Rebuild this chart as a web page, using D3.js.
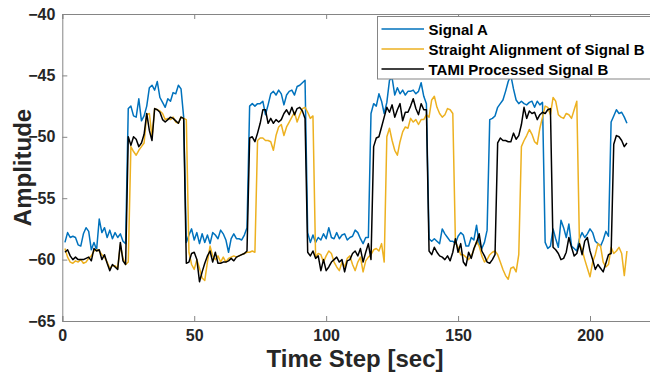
<!DOCTYPE html>
<html>
<head>
<meta charset="utf-8">
<script src="https://cdn.jsdelivr.net/npm/d3@7"></script>
<style>
  html, body { margin: 0; padding: 0; background: #fff; }
  svg { display: block; font-family: "Liberation Sans", Arial, Helvetica, sans-serif; }
</style>
</head>
<body>
<svg id="chart" width="650" height="375"></svg>
<script>
// time steps run 1..214 (one sample per second)
const signalA = [
  -58.6, -57.8, -58.2, -58.1, -58.2, -58.8, -58.9, -57.9, -57.4, -57.7, -59.2, -58.6, -59.2, -56.7, -57.8, -57.4, -58.2, -57.6, -58.3, -57.8, -58.2, -57.9, -58.5, -58.7,
  -47.7, -47.5, -48.3, -48.4, -46.9, -48.7, -48.3, -47.5, -46.0, -45.8, -46.2, -45.5, -46.8, -47.2, -47.6, -46.9, -47.1, -46.4, -46.5, -45.8, -46.1, -48.4,
  -58.6, -58.0, -57.5, -58.4, -57.8, -58.7, -57.9, -58.6, -58.0, -58.7, -57.8, -58.0, -58.3, -57.6, -57.9, -58.4, -59.4, -58.3, -57.9, -58.3, -58.3, -58.4, -58.0, -57.4,
  -47.5, -47.3, -47.5, -47.3, -47.3, -47.1, -48.2, -47.4, -46.5, -46.3, -46.6, -46.2, -46.5, -47.4, -46.6, -46.3, -46.2, -46.6, -45.9, -45.8, -45.6, -45.4,
  -57.8, -58.6, -58.0, -58.6, -58.2, -58.4, -57.9, -58.3, -57.4, -58.2, -58.3, -57.8, -58.3, -58.0, -57.9, -58.4, -58.2, -58.1, -57.6, -57.8, -58.3, -58.7, -58.2, -58.2,
  -48.1, -47.3, -47.5, -46.5, -47.1, -48.1, -47.2, -45.4, -45.2, -46.6, -46.0, -46.5, -46.2, -46.6, -46.3, -46.3, -46.2, -46.5, -46.3, -45.6, -46.7, -47.3,
  -58.3, -58.5, -58.3, -58.5, -58.7, -57.5, -57.9, -58.2, -58.5, -58.5, -58.7, -58.1, -57.8, -58.0, -58.9, -58.9, -58.2, -58.4, -57.2, -58.7, -59.1, -58.6, -57.6,
  -48.6, -48.5, -48.3, -47.6, -47.3, -47.0, -46.3, -45.5, -45.0, -46.1, -47.0, -47.3, -47.1, -47.3, -47.4, -47.2, -47.1, -47.6, -47.1, -47.4, -47.2,
  -58.6, -59.1, -58.9, -57.5, -58.3, -59.0, -56.8, -57.4, -58.2, -57.1, -58.9, -59.1, -59.3, -58.3, -57.8, -58.2, -57.9, -57.5, -57.8, -58.5, -58.7, -58.9, -58.4, -57.7, -58.1,
  -48.8, -48.3, -47.8, -48.1, -48.0, -48.4, -48.9
];

const straightB = [
  -59.1, -59.8, -60.2, -60.3, -60.1, -60.2, -60.0, -60.3, -60.2, -59.9, -59.7, -59.3, -59.2, -59.3, -59.6, -59.8, -60.2, -60.7, -60.5, -60.5, -60.7, -58.8, -59.9, -60.4, -60.2,
  -50.8, -51.2, -51.5, -51.1, -50.8, -50.5, -48.2, -48.1, -50.0, -47.7, -47.8, -47.9, -48.1, -48.6, -48.5, -48.6, -48.4, -48.8, -48.9, -48.4, -48.5, -48.6,
  -59.4, -60.4, -60.8, -60.0, -60.7, -61.5, -61.7, -60.2, -58.9, -59.7, -60.0, -59.7, -60.2, -59.8, -60.2, -59.9, -59.8, -59.7, -59.8, -59.7, -59.6, -59.5, -59.4, -59.4, -59.3, -59.4,
  -50.3, -50.1, -50.1, -50.3, -50.3, -50.4, -51.1, -49.9, -49.2, -49.0, -49.9, -49.2, -48.8, -48.4, -48.0, -48.8, -48.2, -47.7, -47.6, -48.0, -48.5, -48.3,
  -59.8, -59.5, -59.6, -60.2, -59.7, -59.3, -59.5, -60.2, -60.6, -60.9, -60.2, -60.6, -59.9, -59.7, -60.4, -60.9, -60.2, -59.8, -61.0, -60.1, -59.8, -59.6, -59.2, -59.1, -59.3, -58.7, -60.2,
  -50.0, -49.3, -50.3, -51.1, -51.5, -50.4, -49.6, -49.2, -49.3, -48.5, -48.8, -48.6, -49.0, -48.6, -48.6, -48.2, -48.4, -47.0, -46.7, -47.6, -48.1, -48.4, -48.2, -47.7, -47.8, -48.1,
  -58.6, -59.0, -59.6, -59.6, -59.8, -60.0, -59.7, -59.2, -58.5, -58.9, -59.7, -60.2, -60.0, -59.6, -59.4, -59.3, -59.6, -60.2, -60.8, -61.3, -61.6, -60.7, -60.6, -61.0, -59.6,
  -50.8, -50.3, -49.9, -49.4, -49.8, -50.4, -50.6, -49.3, -48.4, -47.5, -47.6, -48.2, -46.8, -47.1, -48.2, -48.4, -48.5, -48.1, -48.2, -48.5, -47.8, -47.1,
  -58.7, -59.2, -60.0, -60.7, -61.4, -60.2, -59.6, -58.7, -58.9, -60.2, -60.6, -60.4, -59.0, -59.5, -59.3, -59.0, -59.5, -61.3, -59.3
];

const tamiB = [
  -59.4, -59.2, -59.7, -60.0, -59.8, -60.0, -60.0, -60.0, -59.9, -59.8, -60.1, -59.1, -59.3, -59.2, -60.0, -59.6, -60.3, -60.9, -60.4, -60.6, -60.8, -58.6, -60.1, -60.4,
  -50.0, -50.7, -50.0, -50.2, -50.8, -50.5, -49.8, -48.1, -49.5, -50.3, -47.7, -47.8, -48.0, -48.6, -48.8, -48.6, -48.4, -48.5, -48.7, -48.9, -48.4, -48.5,
  -60.3, -60.2, -59.5, -59.4, -60.0, -61.8, -61.0, -60.3, -59.7, -59.3, -60.2, -59.4, -60.3, -60.3, -60.2, -60.2, -60.1, -59.9, -60.1, -59.8, -59.7, -59.6, -59.5, -59.3,
  -50.1, -50.0, -50.4, -49.7, -48.9, -47.8, -47.8, -48.9, -48.5, -48.9, -48.6, -48.8, -48.6, -48.1, -47.8, -48.2, -47.6, -48.2, -47.7, -47.6, -47.9, -48.5,
  -59.4, -59.7, -59.3, -59.9, -59.7, -60.9, -60.0, -60.9, -60.6, -60.2, -60.0, -59.8, -60.2, -60.0, -61.0, -60.1, -60.0, -59.5, -59.3, -59.7, -59.1, -60.2, -59.4, -58.7, -60.0,
  -50.8, -50.1, -50.0, -49.2, -48.4, -47.6, -48.0, -47.4, -48.4, -47.8, -47.3, -48.7, -48.0, -48.0, -47.5, -46.9, -47.7, -48.2, -47.3, -47.8, -47.8,
  -59.3, -59.6, -59.0, -59.4, -59.7, -59.8, -60.0, -59.7, -60.1, -59.4, -58.3, -59.4, -58.7, -60.2, -60.5, -59.4, -59.9, -59.1, -58.6, -57.9, -59.3, -59.7, -60.2, -60.3, -60.0, -59.6,
  -50.5, -50.1, -50.3, -50.3, -50.4, -50.4, -49.7, -50.2, -49.9, -49.0, -47.6, -48.5, -47.9, -48.1, -48.0, -48.6, -48.2, -48.0, -48.1, -47.8, -47.7,
  -59.0, -59.2, -59.5, -60.0, -59.9, -59.4, -58.2, -59.0, -59.7, -59.5, -58.7, -59.6, -58.5, -58.2, -59.3, -60.0, -60.8, -60.4, -60.7, -61.0, -60.3, -59.6, -59.5,
  -50.6, -49.9, -50.0, -50.3, -50.8, -50.5
];

const xTicks = [0, 50, 100, 150, 200];
const yTicks = [-65, -60, -55, -50, -45, -40];
const seriesNames = ['Signal A', 'Straight Alignment of Signal B', 'TAMI Processed Signal B'];
const seriesColors = ['#0072BD', '#EDB120', '#000000'];

const svg = d3.select('#chart');
const plotLeft = 62.3, plotTop = 14, plotBottom = 321;

const x = d3.scaleLinear().domain([0, 250]).range([plotLeft, plotLeft + 250 * 2.6385]);
const y = d3.scaleLinear().domain([-65, -40]).range([plotBottom, plotTop]);

svg.append('rect').attr('width', 650).attr('height', 375).attr('fill', '#fff');

// data lines, drawn A -> straight -> TAMI so black sits on top
const line = d3.line()
  .x((d, i) => x(i + 1))
  .y(d => y(d));

[signalA, straightB, tamiB].forEach((vals, k) => {
  svg.append('path')
    .datum(vals)
    .attr('fill', 'none')
    .attr('stroke', seriesColors[k])
    .attr('stroke-width', 1.5)
    .attr('stroke-linejoin', 'round')
    .attr('d', line);
});

// axes (MATLAB style box, inward ticks)
const axisColor = '#858585';
const xAxisB = d3.axisBottom(x).tickValues(xTicks).tickSize(-5).tickPadding(9).tickFormat(d3.format('d'));
const xAxisT = d3.axisTop(x).tickValues(xTicks).tickSize(-5).tickFormat('');
const yAxisL = d3.axisLeft(y).tickValues(yTicks).tickSize(-5).tickPadding(7).tickFormat(d3.format('d'));

function styleAxis(g) {
  g.select('.domain').attr('stroke', axisColor).attr('stroke-width', 1);
  g.selectAll('.tick line').attr('stroke', axisColor);
  g.selectAll('.tick text')
    .attr('fill', '#262626')
    .style('font-size', '16px')
    .style('font-weight', 'bold');
}

svg.append('g').attr('transform', `translate(0,${plotBottom})`).call(xAxisB).call(styleAxis);
svg.append('g').attr('transform', `translate(0,${plotTop})`).call(xAxisT).call(styleAxis);
svg.append('g').attr('transform', `translate(${plotLeft},0)`).call(yAxisL).call(styleAxis);

// axis titles
svg.append('text')
  .attr('x', 355).attr('y', 367)
  .attr('text-anchor', 'middle')
  .attr('fill', '#262626')
  .style('font-size', '24px').style('font-weight', 'bold')
  .text('Time Step [sec]');

svg.append('text')
  .attr('transform', `translate(31,${(plotTop + plotBottom) / 2}) rotate(-90)`)
  .attr('text-anchor', 'middle')
  .attr('fill', '#262626')
  .style('font-size', '24px').style('font-weight', 'bold')
  .text('Amplitude');

// legend
const lg = svg.append('g').attr('transform', 'translate(377.5,16.5)');
lg.append('rect')
  .attr('width', 300).attr('height', 62.5)
  .attr('fill', '#fff').attr('stroke', axisColor).attr('stroke-width', 1);
seriesNames.forEach((name, k) => {
  const yy = 12.5 + k * 20;
  lg.append('line')
    .attr('x1', 4).attr('x2', 46.5).attr('y1', yy).attr('y2', yy)
    .attr('stroke', seriesColors[k]).attr('stroke-width', 1.5);
  lg.append('text')
    .attr('x', 51).attr('y', yy + 5.5)
    .attr('fill', '#000')
    .style('font-size', '15px').style('font-weight', 'bold')
    .text(name);
});
</script>
</body>
</html>
